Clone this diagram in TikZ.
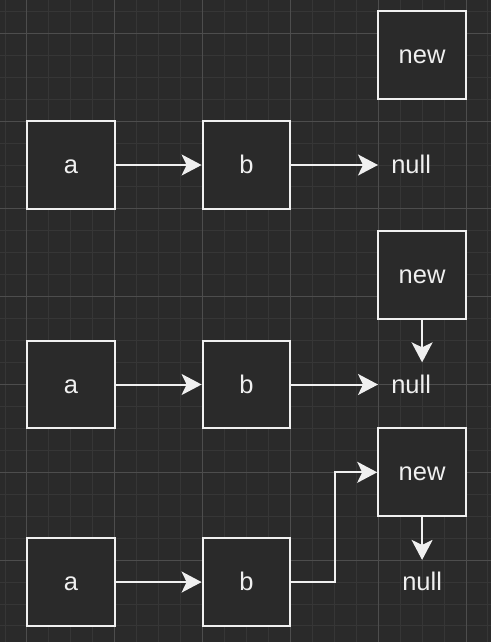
\documentclass[tikz,border=0pt]{standalone}
\usepackage{fontspec}
\setmainfont{Liberation Sans}
\usetikzlibrary{arrows.meta}
\definecolor{canvas}{HTML}{2A2A2A}
\definecolor{gridminor}{HTML}{363636}
\definecolor{gridmajor}{HTML}{4D4D4D}
\definecolor{ink}{HTML}{F0F0F0}
\tikzset{
  cell/.style={draw=ink, fill=canvas, line width=2pt, minimum size=87.8pt, inner sep=0pt, text=ink, text height=22.6pt, text depth=5.3pt},
  nullval/.style={text=ink, minimum width=65.85pt, minimum height=43.9pt, inner sep=0pt, text height=22.6pt, text depth=5.3pt},
  link/.style={draw=ink, line width=2pt, -{Stealth[length=20pt, width=21pt, inset=5pt]}}
}
\begin{document}
\begin{tikzpicture}[x=21.95pt, y=-21.95pt, shift={(27pt,-33.3pt)}, font=\fontsize{25.5}{30}\selectfont]
			%%%%% BACKGROUND %%%%%
			
			\useasboundingbox (-1.230, -1.517) rectangle (21.139, 27.731);
			\fill[canvas] (-1.230, -1.517) rectangle (21.139, 27.731);
			
			\foreach \gx in {-1,...,21}
				\draw[gridminor, line width=1pt] (\gx, -1.517) -- (\gx, 27.731);
			\foreach \gy in {-1,...,27}
				\draw[gridminor, line width=1pt] (-1.230, \gy) -- (21.139, \gy);
			\foreach \gx in {0,4,...,20}
				\draw[gridmajor, line width=1pt] (\gx, -1.517) -- (\gx, 27.731);
			\foreach \gy in {0,4,...,24}
				\draw[gridmajor, line width=1pt] (-1.230, \gy) -- (21.139, \gy);
			
			%%%%% FIRST %%%%%
			
			\node[cell] (a1) at (2, 6) {a};
			\node[cell] (b1) at (10, 6) {b};
			\node[cell] (new1) at (18, 1) {new};
			\node[nullval] (null1) at (17.5, 6) {null};
			
			\draw[link] (a1) -- (b1);
			\draw[link] (b1) -- (null1);
			
			%%%%% SECOND %%%%%
			
			\node[cell] (a2) at (2, 16) {a};
			\node[cell] (b2) at (10, 16) {b};
			\node[cell] (new2) at (18, 11) {new};
			\node[nullval] (null2) at (17.5, 16) {null};
			
			\draw[link] (a2) -- (b2);
			\draw[link] (b2) -- (null2);
			\draw[link] (new2.south) -- (new2.south |- null2.north);
			
			%%%%% THIRD %%%%%
			
			\node[cell] (a3) at (2, 25) {a};
			\node[cell] (b3) at (10, 25) {b};
			\node[cell] (new3) at (18, 20) {new};
			\node[nullval] (null3) at (18, 25) {null};
			
			\draw[link] (a3) -- (b3);
			\draw[link] (b3.east) -- ++(2, 0) |- (new3.west);
			\draw[link] (new3) -- (null3);
			
			%%%%% END %%%%%
\end{tikzpicture}
\end{document}
